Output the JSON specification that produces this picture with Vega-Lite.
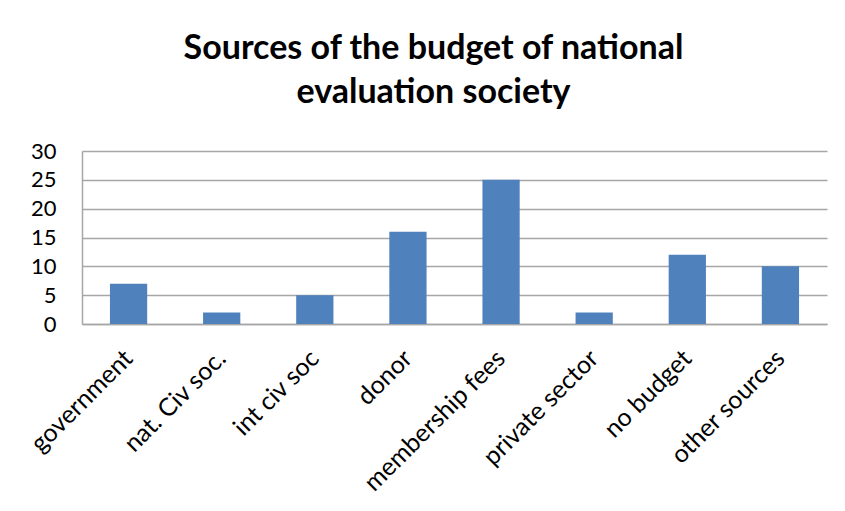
{
  "$schema": "https://vega.github.io/schema/vega-lite/v6.json",
  "width": 745,
  "height": 173,
  "autosize": {"type": "none"},
  "padding": {"left": 82, "top": 151, "right": 18, "bottom": 187},
  "background": "white",
  "title": {
    "text": ["Sources of the budget of national", "evaluation society"],
    "font": "Lato",
    "fontSize": 34,
    "fontWeight": "bold",
    "color": "black",
    "lineHeight": 44,
    "anchor": "middle",
    "dx": -21,
    "offset": 30
  },
  "data": {
    "values": [
      {"source": "government", "count": 7},
      {"source": "nat. Civ soc.", "count": 2},
      {"source": "int civ soc", "count": 5},
      {"source": "donor", "count": 16},
      {"source": "membership fees", "count": 25},
      {"source": "private sector", "count": 2},
      {"source": "no budget", "count": 12},
      {"source": "other sources", "count": 10}
    ]
  },
  "mark": {"type": "bar", "color": "#4F81BD"},
  "encoding": {
    "x": {
      "field": "source",
      "type": "nominal",
      "sort": null,
      "scale": {"paddingInner": 0.6, "paddingOuter": 0.3},
      "axis": {
        "title": null,
        "labelAngle": -45,
        "labelFont": "Lato",
        "labelFontSize": 25,
        "labelColor": "black",
        "labelAlign": "right",
        "labelBaseline": "middle",
        "labelPadding": 30,
        "ticks": false,
        "domainColor": "#A6A6A6",
        "domainWidth": 1.5,
        "labelOverlap": false,
        "labelLimit": 400
      }
    },
    "y": {
      "field": "count",
      "type": "quantitative",
      "scale": {"domain": [0, 30]},
      "axis": {
        "title": null,
        "values": [0, 5, 10, 15, 20, 25, 30],
        "labelFont": "Lato",
        "labelFontSize": 22,
        "labelColor": "black",
        "labelPadding": 26,
        "ticks": false,
        "gridColor": "#A6A6A6",
        "gridWidth": 1.5,
        "domainColor": "#A6A6A6",
        "domainWidth": 1.5
      }
    }
  },
  "config": {"view": {"stroke": null}}
}
